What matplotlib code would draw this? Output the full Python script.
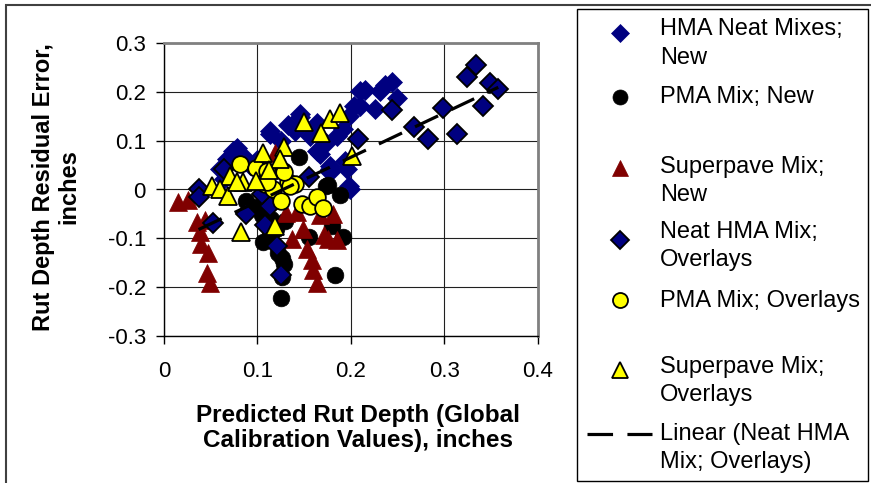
import numpy as np
import matplotlib
matplotlib.use("Agg")
import matplotlib.pyplot as plt
from matplotlib.lines import Line2D
from matplotlib.patches import Rectangle
from matplotlib.ticker import FuncFormatter

plt.rcParams["font.family"] = ["Liberation Sans", "DejaVu Sans"]

# HMA Neat Mixes; New
hma_new_x = [0.078, 0.074, 0.114, 0.133, 0.146, 0.210, 0.146, 0.114, 0.164, 0.203,
             0.198, 0.185, 0.156, 0.173, 0.164, 0.178, 0.196, 0.198, 0.244, 0.237,
             0.2315, 0.215, 0.249, 0.226, 0.210, 0.192, 0.178, 0.199, 0.067, 0.060,
             0.085, 0.064, 0.178, 0.194, 0.167, 0.125, 0.140, 0.100, 0.092]
hma_new_y = [0.086, 0.078, 0.113, 0.133, 0.149, 0.201, 0.154, 0.120, 0.137, 0.170,
             0.150, 0.109, 0.109, 0.096, 0.079, 0.048, 0.042, 0.008, 0.221, 0.215,
             0.201, 0.203, 0.188, 0.164, 0.172, 0.123, 0.036, 0.001, 0.062, 0.042,
             0.069, 0.021, 0.042, 0.059, 0.072, 0.100, 0.120, 0.060, 0.050]

# PMA Mix; New
pma_new_x = [0.145, 0.176, 0.189, 0.088, 0.105, 0.106, 0.114, 0.126, 0.128, 0.125,
             0.126, 0.180, 0.192, 0.183, 0.173, 0.155, 0.122, 0.115, 0.120, 0.098,
             0.110, 0.130]
pma_new_y = [0.067, 0.010, -0.011, -0.023, -0.053, -0.107, -0.094, -0.141, -0.152, -0.223,
             -0.179, -0.074, -0.097, -0.175, 0.008, -0.097, -0.130, -0.060, -0.080, -0.035,
             -0.020, -0.065]

# Superpave Mix; New
sp_new_x = [0.015, 0.026, 0.035, 0.044, 0.039, 0.040, 0.047, 0.046, 0.049, 0.131,
            0.142, 0.137, 0.149, 0.153, 0.158, 0.160, 0.164, 0.171, 0.185, 0.181,
            0.167, 0.176, 0.119]
sp_new_y = [-0.026, -0.022, -0.067, -0.063, -0.087, -0.111, -0.131, -0.172, -0.192, -0.048,
            -0.046, -0.101, -0.080, -0.121, -0.145, -0.165, -0.192, -0.094, -0.104, -0.050,
            -0.053, -0.101, 0.075]

# Neat HMA Mix; Overlays
hma_ov_x = [0.037, 0.038, 0.053, 0.088, 0.108, 0.114, 0.121, 0.125, 0.155, 0.064,
            0.105, 0.208, 0.244, 0.268, 0.283, 0.299, 0.314, 0.324, 0.334, 0.342,
            0.349, 0.358]
hma_ov_y = [0.001, -0.015, -0.068, -0.050, -0.072, -0.034, -0.116, -0.175, 0.025, 0.042,
            -0.009, 0.103, 0.162, 0.128, 0.103, 0.166, 0.113, 0.231, 0.255, 0.172,
            0.219, 0.206]

# PMA Mix; Overlays
pma_ov_x = [0.081, 0.098, 0.110, 0.127, 0.133, 0.140, 0.108, 0.117, 0.125, 0.148,
            0.156, 0.164, 0.170, 0.135, 0.128, 0.110]
pma_ov_y = [0.052, 0.045, 0.038, 0.038, 0.015, 0.011, 0.011, 0.001, -0.023, -0.029,
            -0.034, -0.016, -0.038, 0.008, 0.035, 0.015]

# Superpave Mix; Overlays
sp_ov_x = [0.150, 0.178, 0.189, 0.168, 0.129, 0.201, 0.106, 0.124, 0.112, 0.071,
           0.051, 0.060, 0.069, 0.085, 0.099, 0.119, 0.082, 0.078]
sp_ov_y = [0.138, 0.145, 0.157, 0.115, 0.088, 0.069, 0.074, 0.062, 0.040, 0.028,
           0.008, 0.001, -0.013, 0.015, 0.018, -0.074, -0.087, 0.015]

legend_labels = [["HMA Neat Mixes;", "New"], ["PMA Mix; New"], ["Superpave Mix;", "New"],
                 ["Neat HMA Mix;", "Overlays"], ["PMA Mix; Overlays"],
                 ["Superpave Mix;", "Overlays"], ["Linear (Neat HMA", "Mix; Overlays)"]]

W, H = 871, 483
fig = plt.figure(figsize=(W / 100, H / 100), dpi=100, facecolor="w")
ax = fig.add_axes([164 / W, 1 - 336 / H, 373.5 / W, 293 / H])

def fx(px):
    return px / W

def fy(py):
    return 1 - py / H

navy = "#000080"
maroon = "#800000"
styles = [
    dict(marker="D", ms=10.5, mfc=navy, mec=navy, mew=0.5),
    dict(marker="o", ms=12, mfc="black", mec="black", mew=0.5),
    dict(marker="^", ms=12.5, mfc=maroon, mec=maroon, mew=0.5),
    dict(marker="D", ms=10.5, mfc=navy, mec="black", mew=1.3),
    dict(marker="o", ms=12, mfc="#FFFF00", mec="black", mew=1.3),
    dict(marker="^", ms=12.5, mfc="#FFFF00", mec="black", mew=1.3),
]
series = [(hma_new_x, hma_new_y), (pma_new_x, pma_new_y), (sp_new_x, sp_new_y),
          (hma_ov_x, hma_ov_y), (pma_ov_x, pma_ov_y), (sp_ov_x, sp_ov_y)]

for (xs, ys), st in zip(series, styles):
    ax.plot(xs, ys, ls="none", **st)

# linear trendline for Neat HMA overlays
slope, icpt = np.polyfit(hma_ov_x, hma_ov_y, 1)
tx = np.array([min(hma_ov_x), max(hma_ov_x)])
ax.plot(tx, slope * tx + icpt, color="black", lw=2.3, dashes=(8, 4.5), solid_capstyle="butt")

ax.set_xlim(0, 0.4)
ax.set_ylim(-0.3, 0.3)
ax.set_xticks(np.arange(0, 0.41, 0.1))
ax.set_yticks(np.arange(-0.3, 0.31, 0.1))
fmt = FuncFormatter(lambda v, p: "%g" % round(v, 2))
ax.xaxis.set_major_formatter(fmt)
ax.yaxis.set_major_formatter(fmt)
ax.tick_params(direction="out", length=6, width=1, labelsize=16)
ax.tick_params(axis="x", pad=12)
ax.tick_params(axis="y", pad=7)
ax.grid(True, color="#202020", lw=0.8)
ax.set_axisbelow(True)
for s in ["top", "right"]:
    ax.spines[s].set_color("#808080")
    ax.spines[s].set_linewidth(2)
for s in ["left", "bottom"]:
    ax.spines[s].set_color("black")
    ax.spines[s].set_linewidth(1)

ax.set_xlabel("Predicted Rut Depth (Global\nCalibration Values), inches",
              fontsize=17.5, fontweight="bold", va="center", linespacing=1.1)
ax.xaxis.set_label_coords(0.52, -0.314)
ax.set_ylabel("Rut Depth Residual Error,\ninches", fontsize=17, fontweight="bold",
              va="center", linespacing=1.15)
ax.yaxis.set_label_coords(-0.288, 0.51)

# chart frame and legend box
fig.add_artist(Rectangle((fx(6), fy(490)), fx(880) - fx(6), fy(5) - fy(490),
                         transform=fig.transFigure, fill=False, ec="#404040", lw=1.5))
fig.add_artist(Rectangle((fx(577), fy(481)), fx(868) - fx(577), fy(9) - fy(481),
                         transform=fig.transFigure, fill=False, ec="black", lw=1))

marker_y = [33, 97, 168, 240, 300, 370]
base_y = [[35, 64], [103], [173, 201], [238, 266], [307], [373, 401], [440, 468]]
for i, lines in enumerate(legend_labels):
    if i < 6:
        fig.add_artist(Line2D([fx(620)], [fy(marker_y[i])], transform=fig.transFigure,
                              ls="none", **dict(styles[i], ms=styles[i]["ms"] * 0.9)))
    else:
        fig.add_artist(Line2D([fx(587), fx(652)], [fy(434), fy(434)], transform=fig.transFigure,
                              color="black", lw=2.3, dashes=(8, 4.5), solid_capstyle="butt"))
    for line, by in zip(lines, base_y[i]):
        fig.text(fx(660), fy(by), line, fontsize=17, va="baseline", ha="left")

fig.savefig("out.png", dpi=100)
